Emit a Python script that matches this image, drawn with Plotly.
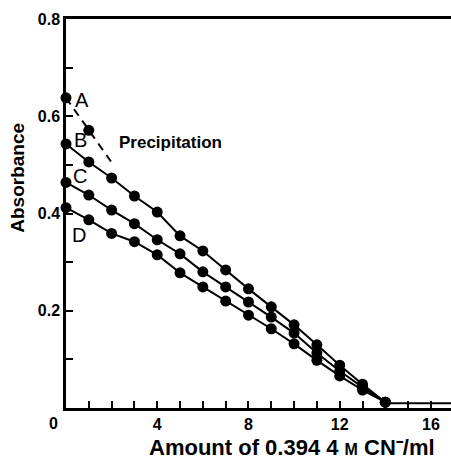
import plotly.graph_objects as go

# Volume of 0.3944 M cyanide added (ml)
x_vol = list(range(0, 15))

# Absorbance readings for the three titrations
abs_B = [0.543, 0.506, 0.473, 0.436, 0.403, 0.354, 0.323, 0.284, 0.245, 0.208,
         0.171, 0.130, 0.088, 0.049, 0.012]
abs_C = [0.464, 0.438, 0.407, 0.379, 0.346, 0.317, 0.280, 0.249, 0.218, 0.187,
         0.154, 0.113, 0.076, 0.043, 0.012]
abs_D = [0.412, 0.387, 0.359, 0.342, 0.315, 0.278, 0.249, 0.220, 0.191, 0.163,
         0.132, 0.098, 0.066, 0.037, 0.012]

# Curve A: only two readings before precipitation sets in
a_x = [0, 1]
abs_A = [0.638, 0.571]
precip_x = [0, 1, 2]
precip_y = [0.638, 0.571, 0.505]

# Residual absorbance after the end point
plateau_x = [14, 17]
plateau_y = [0.010, 0.010]

x_ticks = list(range(0, 17))
x_ticklabels = [str(v) if v % 4 == 0 and v != 0 else "" for v in x_ticks]
y_ticks = [0.0, 0.1, 0.2, 0.3, 0.4, 0.5, 0.6, 0.7, 0.8]
y_ticklabels = ["", "", "0.2", "", "0.4", "", "0.6", "", "0.8"]

FONT = "Liberation Sans, Arial, sans-serif"
marker = dict(color="black", size=11)
line = dict(color="black", width=2)

fig = go.Figure()
fig.add_trace(go.Scatter(x=precip_x, y=precip_y, mode="lines",
                         line=dict(color="black", width=2, dash="8px,6px"),
                         cliponaxis=False))
fig.add_trace(go.Scatter(x=a_x, y=abs_A, mode="markers", marker=marker,
                         cliponaxis=False))
for ys in (abs_B, abs_C, abs_D):
    fig.add_trace(go.Scatter(x=x_vol, y=ys, mode="lines+markers",
                             line=line, marker=marker, cliponaxis=False))
fig.add_trace(go.Scatter(x=plateau_x, y=plateau_y, mode="lines", line=line,
                         cliponaxis=False))

curve_labels = [("A", 0.72, 0.633), ("B", 0.63, 0.551),
                ("C", 0.63, 0.477), ("D", 0.56, 0.356)]
annotations = [dict(x=x, y=y, text=t, showarrow=False, xanchor="center",
                    yanchor="middle", font=dict(family=FONT, size=20, color="black"))
               for t, x, y in curve_labels]
annotations.append(dict(x=4.6, y=0.545, text="Precipitation", showarrow=False,
                        xanchor="center", yanchor="middle",
                        font=dict(family=FONT, size=17, color="black", weight="bold")))
annotations.append(dict(x=0, y=0, text="0", showarrow=False, xanchor="right",
                        yanchor="top", xshift=-6, yshift=-5,
                        font=dict(family=FONT, size=16, color="black", weight="bold")))
annotations.append(dict(xref="paper", yref="paper", x=0.586, y=-0.102,
                        text="Amount of 0.394 4 <span style='font-size:16px'>M</span> CN\u207b/ml",
                        showarrow=False, xanchor="center", yanchor="middle",
                        font=dict(family=FONT, size=22, color="black", weight="bold")))
annotations.append(dict(xref="paper", yref="paper", x=-0.1247, y=0.592,
                        text="Absorbance", textangle=-90, showarrow=False,
                        xanchor="center", yanchor="middle",
                        font=dict(family=FONT, size=19, color="black", weight="bold")))

fig.update_layout(
    width=451, height=462,
    margin=dict(l=66, r=0, t=19, b=54),
    paper_bgcolor="white", plot_bgcolor="white",
    showlegend=False,
    annotations=annotations,
    xaxis=dict(range=[0, 16.88], tickmode="array", tickvals=x_ticks,
               ticktext=x_ticklabels, ticks="inside", ticklen=7, tickwidth=2,
               tickcolor="black", showline=True, linecolor="black", linewidth=2.5,
               mirror=True, showgrid=False, zeroline=False,
               tickfont=dict(family=FONT, size=16, color="black", weight="bold")),
    yaxis=dict(range=[0, 0.8], tickmode="array", tickvals=y_ticks,
               ticktext=y_ticklabels, ticks="inside", ticklen=7, tickwidth=2,
               tickcolor="black", showline=True, linecolor="black", linewidth=2.5,
               showgrid=False, zeroline=False,
               tickfont=dict(family=FONT, size=16, color="black", weight="bold")),
)

fig.write_html("out.html")
